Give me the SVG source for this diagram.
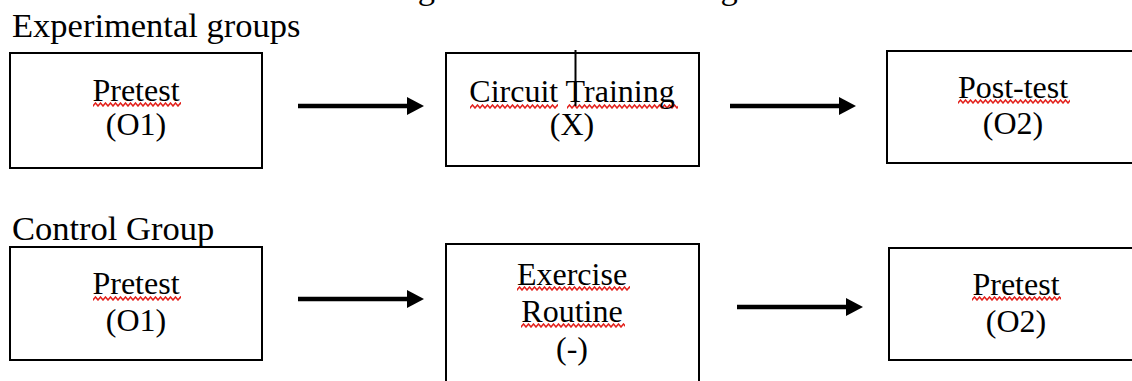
<svg xmlns="http://www.w3.org/2000/svg" width="1132" height="381" viewBox="0 0 1132 381">
  <style>
    .box { fill: #ffffff; stroke: #000000; stroke-width: 2; }
    .t { font-family: "Liberation Serif", "Times New Roman", serif; font-size: 32px; fill: #000000; text-anchor: middle; }
    .lbl { font-family: "Liberation Serif", "Times New Roman", serif; font-size: 34.5px; fill: #000000; }
    .conn { stroke: #000000; stroke-width: 4.5; fill: none; }
    .head { fill: #000000; }
    .sq { fill: url(#wave); }
  </style>
  <defs>
    <pattern id="wave" x="0" y="0" width="5" height="5" patternUnits="userSpaceOnUse">
      <path d="M-1.25,2.5 L0,4 L2.5,1 L5,4 L6.25,2.5" stroke="#e3211c" stroke-width="1.5" fill="none"/>
    </pattern>
  </defs>
  <rect x="0" y="0" width="1132" height="381" fill="#ffffff"/>

  <text id="title" class="lbl" x="389" y="-1.5" font-size="35">Figure 1. Research Design</text>
  <text id="label-experimental" class="lbl" x="12" y="37">Experimental groups</text>
  <text id="label-control" class="lbl" x="12" y="240">Control Group</text>

  <g id="connectors">
    <line class="conn" x1="298" y1="106" x2="410" y2="106"/>
    <polygon class="head" points="407,97 424,106 407,115"/>
    <line class="conn" x1="730" y1="106" x2="842" y2="106"/>
    <polygon class="head" points="839,97 856,106 839,115"/>
    <line class="conn" x1="298" y1="299" x2="410" y2="299"/>
    <polygon class="head" points="407,290 424,299 407,308"/>
    <line class="conn" x1="737" y1="307" x2="849" y2="307"/>
    <polygon class="head" points="846,298 863,307 846,316"/>
  </g>

  <g id="exp-pretest">
    <rect class="box" x="10" y="53" width="252" height="115"/>
    <rect class="sq" transform="translate(93,102)" width="88" height="5"/>
    <text class="t" x="136" y="101">Pretest</text>
    <text class="t" x="136" y="135">(O1)</text>
  </g>

  <g id="exp-circuit">
    <rect class="box" x="446" y="53" width="253" height="113"/>
    <rect class="sq" transform="translate(470,104)" width="88" height="5"/>
    <rect class="sq" transform="translate(567,104)" width="111" height="5"/>
    <text class="t" x="572" y="102">Circuit Training</text>
    <text class="t" x="572" y="135">(X)</text>
    <line x1="575.5" y1="50" x2="575.5" y2="106" stroke="#000000" stroke-width="2"/>
  </g>

  <g id="exp-posttest">
    <rect class="box" x="887" y="51" width="252" height="112"/>
    <rect class="sq" transform="translate(958,99)" width="112" height="5"/>
    <text class="t" x="1013" y="98">Post-test</text>
    <text class="t" x="1013" y="134">(O2)</text>
  </g>

  <g id="ctl-pretest">
    <rect class="box" x="10" y="247" width="252" height="113"/>
    <rect class="sq" transform="translate(93,296)" width="88" height="5"/>
    <text class="t" x="136" y="294">Pretest</text>
    <text class="t" x="136" y="331">(O1)</text>
  </g>

  <g id="ctl-exercise">
    <rect class="box" x="446" y="244" width="253" height="160"/>
    <rect class="sq" transform="translate(517,286)" width="113" height="5"/>
    <rect class="sq" transform="translate(521,323)" width="104" height="5"/>
    <text class="t" x="572" y="285">Exercise</text>
    <text class="t" x="572" y="322">Routine</text>
    <text class="t" x="572" y="359">(-)</text>
  </g>

  <g id="ctl-posttest">
    <rect class="box" x="889" y="248" width="252" height="112"/>
    <rect class="sq" transform="translate(972,296)" width="89" height="5"/>
    <text class="t" x="1016" y="295">Pretest</text>
    <text class="t" x="1016" y="332">(O2)</text>
  </g>
</svg>
